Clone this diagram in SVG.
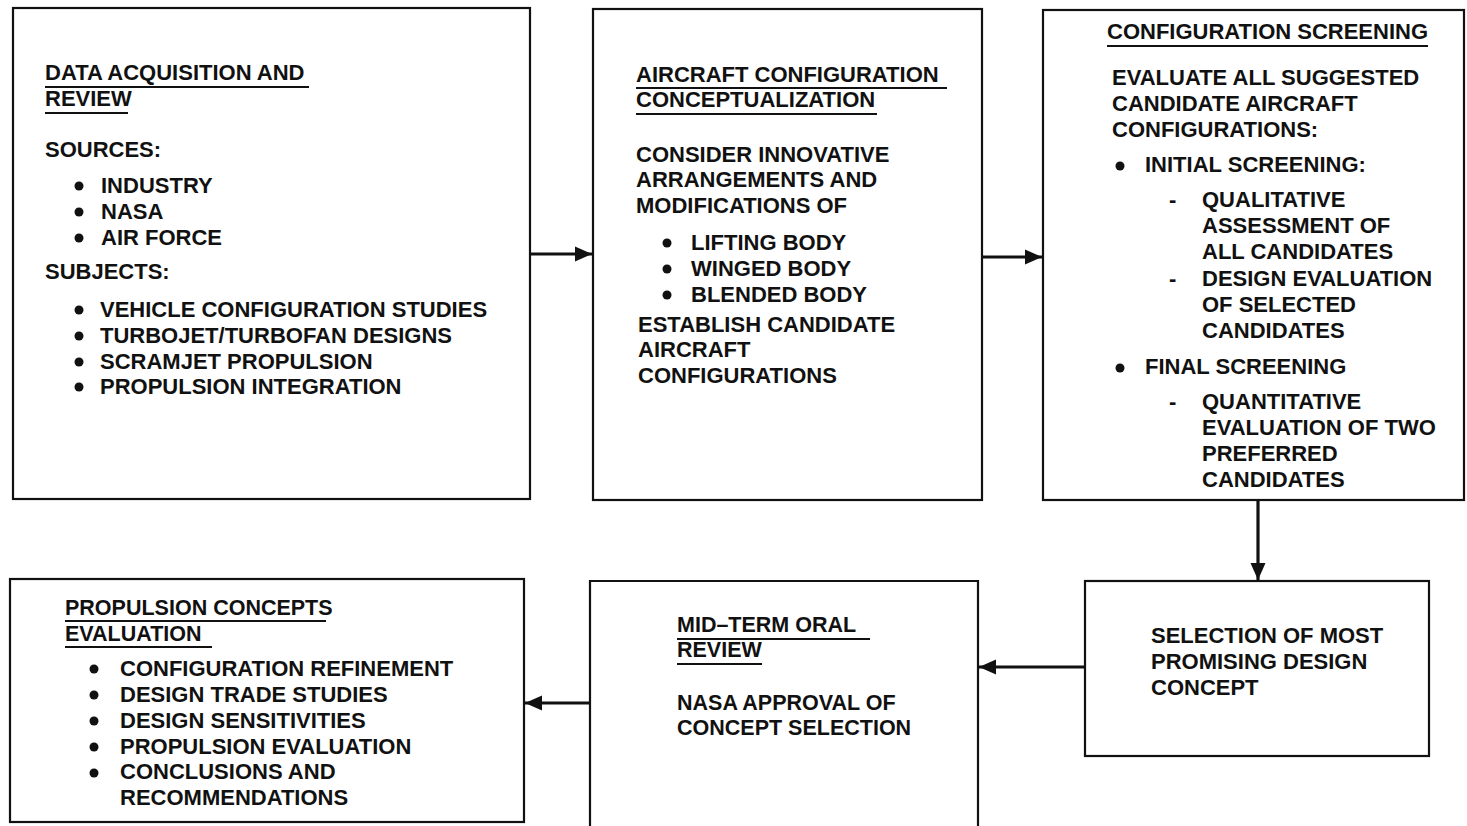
<svg xmlns="http://www.w3.org/2000/svg" width="1467" height="826" viewBox="0 0 1467 826">
<defs>
<style>
.box{fill:none;stroke:#111;stroke-width:2.2}
.t{font-family:"Liberation Sans",Arial,sans-serif;font-weight:bold;font-size:22px;fill:#111}
.s{font-size:21.5px}
.ul{stroke:#111;stroke-width:2}
.dot{fill:#111}
.con{stroke:#111;stroke-width:3.2;fill:none}
</style>
<marker id="ah" markerUnits="userSpaceOnUse" markerWidth="20" markerHeight="16" refX="17" refY="8" orient="auto">
<path d="M0,0.5 L17,8 L0,15.5 Z" fill="#111"/>
</marker>
</defs>
<rect width="1467" height="826" fill="#fff"/>

<g id="connectors">
<line class="con" x1="530" y1="254" x2="592" y2="254" marker-end="url(#ah)"/>
<line class="con" x1="982" y1="257" x2="1042" y2="257" marker-end="url(#ah)"/>
<line class="con" x1="1258" y1="500" x2="1258" y2="580" marker-end="url(#ah)"/>
<line class="con" x1="1085" y1="667" x2="979" y2="667" marker-end="url(#ah)"/>
<line class="con" x1="590" y1="703" x2="525" y2="703" marker-end="url(#ah)"/>
</g>

<g id="data-acquisition">
<rect class="box" x="13" y="8" width="517" height="491"/>
<text class="t" x="45" y="80">DATA ACQUISITION AND</text>
<line class="ul" x1="45" y1="87" x2="309" y2="87"/>
<text class="t" x="45" y="106">REVIEW</text>
<line class="ul" x1="45" y1="113" x2="128" y2="113"/>
<text class="t" x="45" y="157">SOURCES:</text>
<circle class="dot" cx="79" cy="186" r="4.5"/><text class="t" x="101" y="193">INDUSTRY</text>
<circle class="dot" cx="79" cy="212" r="4.5"/><text class="t" x="101" y="219">NASA</text>
<circle class="dot" cx="79" cy="238" r="4.5"/><text class="t" x="101" y="245">AIR FORCE</text>
<text class="t" x="45" y="279">SUBJECTS:</text>
<circle class="dot" cx="79" cy="310" r="4.5"/><text class="t" x="100" y="317">VEHICLE CONFIGURATION STUDIES</text>
<circle class="dot" cx="79" cy="336" r="4.5"/><text class="t" x="100" y="343">TURBOJET/TURBOFAN DESIGNS</text>
<circle class="dot" cx="79" cy="362" r="4.5"/><text class="t" x="100" y="369">SCRAMJET PROPULSION</text>
<circle class="dot" cx="79" cy="387" r="4.5"/><text class="t" x="100" y="394">PROPULSION INTEGRATION</text>
</g>

<g id="aircraft-config">
<rect class="box" x="593" y="9" width="389" height="491"/>
<text class="t" x="636" y="82">AIRCRAFT CONFIGURATION</text>
<line class="ul" x1="636" y1="88" x2="947" y2="88"/>
<text class="t" x="636" y="107">CONCEPTUALIZATION</text>
<line class="ul" x1="636" y1="114" x2="877" y2="114"/>
<text class="t" x="636" y="162">CONSIDER INNOVATIVE</text>
<text class="t" x="636" y="187">ARRANGEMENTS AND</text>
<text class="t" x="636" y="213">MODIFICATIONS OF</text>
<circle class="dot" cx="667" cy="243" r="4.5"/><text class="t" x="691" y="250">LIFTING BODY</text>
<circle class="dot" cx="667" cy="269" r="4.5"/><text class="t" x="691" y="276">WINGED BODY</text>
<circle class="dot" cx="667" cy="295" r="4.5"/><text class="t" x="691" y="302">BLENDED BODY</text>
<text class="t" x="638" y="332">ESTABLISH CANDIDATE</text>
<text class="t" x="638" y="357">AIRCRAFT</text>
<text class="t" x="638" y="383">CONFIGURATIONS</text>
</g>

<g id="config-screening">
<rect class="box" x="1043" y="10" width="421" height="490"/>
<text class="t" x="1107" y="39">CONFIGURATION SCREENING</text>
<line class="ul" x1="1107" y1="46" x2="1428" y2="46"/>
<text class="t" x="1112" y="85">EVALUATE ALL SUGGESTED</text>
<text class="t" x="1112" y="111">CANDIDATE AIRCRAFT</text>
<text class="t" x="1112" y="137">CONFIGURATIONS:</text>
<circle class="dot" cx="1120" cy="166" r="4.5"/><text class="t" x="1145" y="172">INITIAL SCREENING:</text>
<text class="t" x="1169" y="207">-</text><text class="t" x="1202" y="207">QUALITATIVE</text>
<text class="t" x="1202" y="233">ASSESSMENT OF</text>
<text class="t" x="1202" y="259">ALL CANDIDATES</text>
<text class="t" x="1169" y="286">-</text><text class="t" x="1202" y="286">DESIGN EVALUATION</text>
<text class="t" x="1202" y="312">OF SELECTED</text>
<text class="t" x="1202" y="338">CANDIDATES</text>
<circle class="dot" cx="1120" cy="368" r="4.5"/><text class="t" x="1145" y="374">FINAL SCREENING</text>
<text class="t" x="1169" y="409">-</text><text class="t" x="1202" y="409">QUANTITATIVE</text>
<text class="t" x="1202" y="435">EVALUATION OF TWO</text>
<text class="t" x="1202" y="461">PREFERRED</text>
<text class="t" x="1202" y="487">CANDIDATES</text>
</g>

<g id="selection">
<rect class="box" x="1085" y="581" width="344" height="175"/>
<text class="t" x="1151" y="643">SELECTION OF MOST</text>
<text class="t" x="1151" y="669">PROMISING DESIGN</text>
<text class="t" x="1151" y="695">CONCEPT</text>
</g>

<g id="mid-term">
<path class="box" d="M590,830 V581 H978 V830"/>
<text class="t s" x="677" y="632">MID–TERM ORAL</text>
<line class="ul" x1="677" y1="639" x2="870" y2="639"/>
<text class="t s" x="677" y="657">REVIEW</text>
<line class="ul" x1="677" y1="664" x2="762" y2="664"/>
<text class="t s" x="677" y="710">NASA APPROVAL OF</text>
<text class="t s" x="677" y="735">CONCEPT SELECTION</text>
</g>

<g id="propulsion">
<rect class="box" x="10" y="579" width="514" height="243"/>
<text class="t s" x="65" y="615">PROPULSION CONCEPTS</text>
<line class="ul" x1="65" y1="621" x2="326" y2="621"/>
<text class="t s" x="65" y="641">EVALUATION</text>
<line class="ul" x1="65" y1="647" x2="212" y2="647"/>
<circle class="dot" cx="94" cy="669" r="4.5"/><text class="t" x="120" y="676">CONFIGURATION REFINEMENT</text>
<circle class="dot" cx="94" cy="695" r="4.5"/><text class="t" x="120" y="702">DESIGN TRADE STUDIES</text>
<circle class="dot" cx="94" cy="721" r="4.5"/><text class="t" x="120" y="728">DESIGN SENSITIVITIES</text>
<circle class="dot" cx="94" cy="747" r="4.5"/><text class="t" x="120" y="754">PROPULSION EVALUATION</text>
<circle class="dot" cx="94" cy="773" r="4.5"/><text class="t" x="120" y="779">CONCLUSIONS AND</text>
<text class="t" x="120" y="805">RECOMMENDATIONS</text>
</g>
</svg>
